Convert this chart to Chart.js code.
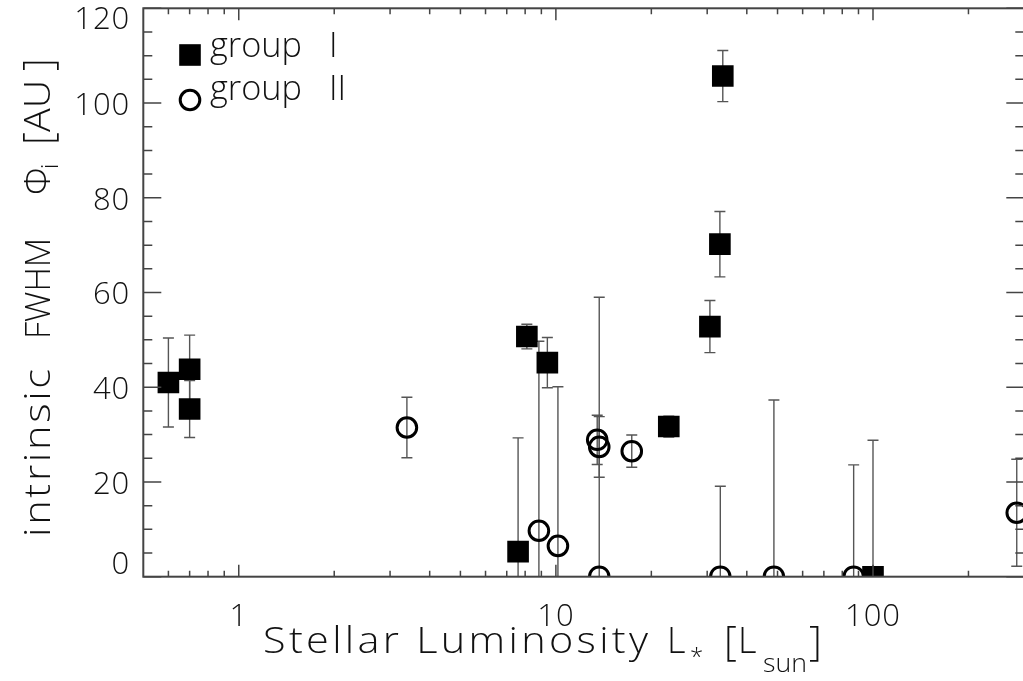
<!DOCTYPE html>
<html>
<head>
<meta charset="utf-8">
<title>Intrinsic FWHM vs stellar luminosity</title>
<script src="https://cdn.jsdelivr.net/npm/chart.js@4"></script>
<style>
  html, body { margin: 0; padding: 0; background: #fff; overflow: hidden; }
  #wrap { width: 1030px; height: 681px; }
</style>
</head>
<body>
<div id="wrap"><canvas id="fwhm-chart" width="1030" height="681"></canvas></div>
<script>
// group I: filled squares (luminosity in L_sun, FWHM and error in AU)
const lumGroupI  = [0.60, 0.70, 0.70, 8.1, 9.4, 7.6, 22.7, 30.6, 33.6, 32.9, 100];
const fwhmGroupI = [41.0, 43.8, 35.4, 50.7, 45.2, 5.3, 31.7, 52.8, 105.7, 70.2, 0];
const errGroupI  = [9.4, 7.2, 6.0, 2.6, 5.3, 24.0, 2.2, 5.5, 5.4, 6.9, 28.8];

// group II: open circles
const lumGroupII  = [3.39, 8.84, 10.15, 13.5, 13.7, 13.7, 17.35, 33.0, 48.7, 86.9, 284];
const fwhmGroupII = [31.5, 9.7, 6.5, 28.9, 27.4, 0, 26.5, 0, 0, 0, 13.5];
const errGroupII  = [6.4, 40.0, 33.6, 5.2, 6.4, 59.0, 3.4, 19.1, 37.3, 23.6, 11.3];

const xMajorTicks = [1, 10, 100];
const xTickLabels = ['1', '10', '100'];
const yMajorTicks = [0, 20, 40, 60, 80, 100, 120];
const yTickLabels = ['0', '20', '40', '60', '80', '100', '120'];

const FONT = '"Open Sans", "DejaVu Sans", sans-serif';
const WEIGHT = 300;
const INK = '#111';
const AXIS = '#444';

function toPoints(xs, ys) {
  return xs.map((x, i) => ({ x: x, y: ys[i] }));
}

function setFont(ctx, size) {
  ctx.font = WEIGHT + ' ' + size + 'px ' + FONT;
}

// draw a word at x; if a wider width is given, widen the glyphs a little
// and make up the rest with letter spacing
function putText(ctx, text, x, y, size, width) {
  setFont(ctx, size);
  ctx.letterSpacing = '0px';
  let sx = 1, ls = 0;
  if (width) {
    const natural = ctx.measureText(text).width;
    if (width > natural) {
      sx = Math.min(width / natural, 1.15);
      if (text.length > 1) ls = (width - natural * sx) / (text.length - 1) / sx;
    }
  }
  ctx.save();
  ctx.translate(x, y);
  ctx.scale(sx, 1);
  ctx.letterSpacing = ls + 'px';
  ctx.fillText(text, 0, 0);
  ctx.restore();
}

const errorBars = {
  id: 'errorBars',
  beforeDatasetsDraw(chart) {
    const ctx = chart.ctx;
    const area = chart.chartArea;
    const xs = chart.scales.x, ys = chart.scales.y;
    ctx.save();
    ctx.beginPath();
    ctx.rect(area.left, area.top, area.right - area.left, area.bottom - area.top);
    ctx.clip();
    ctx.strokeStyle = '#555';
    ctx.lineWidth = 1.4;
    chart.data.datasets.forEach(ds => {
      ds.data.forEach((p, i) => {
        const e = ds.errors[i];
        const px = xs.getPixelForValue(p.x);
        const top = ys.getPixelForValue(p.y + e);
        const bot = ys.getPixelForValue(p.y - e);
        ctx.beginPath();
        ctx.moveTo(px, top);
        ctx.lineTo(px, bot);
        ctx.moveTo(px - 5.5, top);
        ctx.lineTo(px + 5.5, top);
        ctx.moveTo(px - 5.5, bot);
        ctx.lineTo(px + 5.5, bot);
        ctx.stroke();
      });
    });
    ctx.restore();
  }
};

const frame = {
  id: 'frame',
  afterDatasetsDraw(chart) {
    const ctx = chart.ctx;
    const a = chart.chartArea;
    const xs = chart.scales.x, ys = chart.scales.y;
    ctx.save();

    // box
    ctx.strokeStyle = AXIS;
    ctx.lineWidth = 2;
    ctx.strokeRect(a.left, a.top, a.right - a.left, a.bottom - a.top);

    // x ticks (log): majors at decades, minors 2..9
    ctx.lineWidth = 1.5;
    ctx.beginPath();
    for (let d = 0.1; d <= 100; d *= 10) {
      for (let k = 1; k <= 9; k++) {
        const v = d * k;
        if (v <= 0.5 || v >= 300) continue;
        const px = xs.getPixelForValue(v);
        const len = k === 1 ? 12 : 6;
        ctx.moveTo(px, a.bottom); ctx.lineTo(px, a.bottom - len);
        ctx.moveTo(px, a.top); ctx.lineTo(px, a.top + len);
      }
    }
    // y ticks every 5, majors every 20
    for (let v = 0; v <= 120; v += 5) {
      const py = ys.getPixelForValue(v);
      const len = v % 20 === 0 ? 18 : 9;
      ctx.moveTo(a.left, py); ctx.lineTo(a.left + len, py);
      ctx.moveTo(a.right, py); ctx.lineTo(a.right - len, py);
    }
    ctx.stroke();

    ctx.fillStyle = INK;
    setFont(ctx, 31);
    ctx.letterSpacing = '1px';

    // y tick labels, kept inside the axis span
    ctx.textAlign = 'right';
    ctx.textBaseline = 'middle';
    yMajorTicks.forEach((v, i) => {
      let py = ys.getPixelForValue(v) + 3;
      py = Math.min(Math.max(py, a.top + 11.5), a.bottom - 11.5);
      ctx.fillText(yTickLabels[i], a.left - 13, py);
    });

    // x tick labels
    ctx.textAlign = 'center';
    xMajorTicks.forEach((v, i) => {
      ctx.fillText(xTickLabels[i], xs.getPixelForValue(v), 617);
    });
    ctx.letterSpacing = '0px';

    // x title: Stellar Luminosity L_* [L_sun]
    ctx.textAlign = 'left';
    ctx.textBaseline = 'alphabetic';
    putText(ctx, 'Stellar Luminosity', 263, 653, 36, 385);
    putText(ctx, 'L', 667, 653, 36);
    putText(ctx, '*', 690, 665, 24);
    putText(ctx, '[', 724, 655, 40);
    putText(ctx, 'L', 738, 653, 36);
    putText(ctx, 'sun', 763, 672, 26, 44);
    putText(ctx, ']', 809, 655, 40);

    // y title, rotated: intrinsic FWHM Phi_i [AU]
    ctx.save();
    ctx.translate(50, 537);
    ctx.rotate(-Math.PI / 2);
    putText(ctx, 'intrinsic', 0, 0, 36, 168);
    putText(ctx, 'FWHM', 198, 0, 34);
    putText(ctx, '\u03A6', 342, 0, 36);
    putText(ctx, 'i', 368, 8, 24);
    putText(ctx, '[', 392, 2, 40);
    putText(ctx, 'AU', 405, 0, 36, 52);
    putText(ctx, ']', 466, 2, 40);
    ctx.restore();

    // legend
    ctx.fillStyle = '#000';
    ctx.fillRect(179.2, 44.2, 21.6, 21.6);
    ctx.strokeStyle = '#000';
    ctx.lineWidth = 3;
    ctx.beginPath();
    ctx.arc(190, 100, 9.8, 0, Math.PI * 2);
    ctx.stroke();
    ctx.fillStyle = INK;
    putText(ctx, 'group', 210, 56.7, 34, 92);
    putText(ctx, 'I', 329, 56.7, 34);
    putText(ctx, 'group', 210, 100, 34, 92);
    putText(ctx, 'II', 329, 100, 34, 16);

    ctx.restore();
  }
};

new Chart(document.getElementById('fwhm-chart'), {
  type: 'scatter',
  data: {
    datasets: [
      {
        label: 'group I',
        data: toPoints(lumGroupI, fwhmGroupI),
        errors: errGroupI,
        pointStyle: 'rect',
        pointRadius: 15.3,
        pointHoverRadius: 15.3,
        backgroundColor: '#000',
        borderWidth: 0,
        clip: 0
      },
      {
        label: 'group II',
        data: toPoints(lumGroupII, fwhmGroupII),
        errors: errGroupII,
        pointStyle: 'circle',
        pointRadius: 9.8,
        pointHoverRadius: 9.8,
        borderColor: '#000',
        backgroundColor: 'rgba(0,0,0,0)',
        borderWidth: 3,
        clip: 0
      }
    ]
  },
  options: {
    responsive: false,
    animation: false,
    events: [],
    layout: {
      autoPadding: false,
      padding: { left: 143.3, top: 8.3, right: 5.7, bottom: 104.3 }
    },
    scales: {
      x: { type: 'logarithmic', min: 0.5, max: 300, display: false },
      y: { type: 'linear', min: 0, max: 120, display: false }
    },
    plugins: {
      legend: { display: false },
      tooltip: { enabled: false }
    }
  },
  plugins: [errorBars, frame]
});
</script>
</body>
</html>
